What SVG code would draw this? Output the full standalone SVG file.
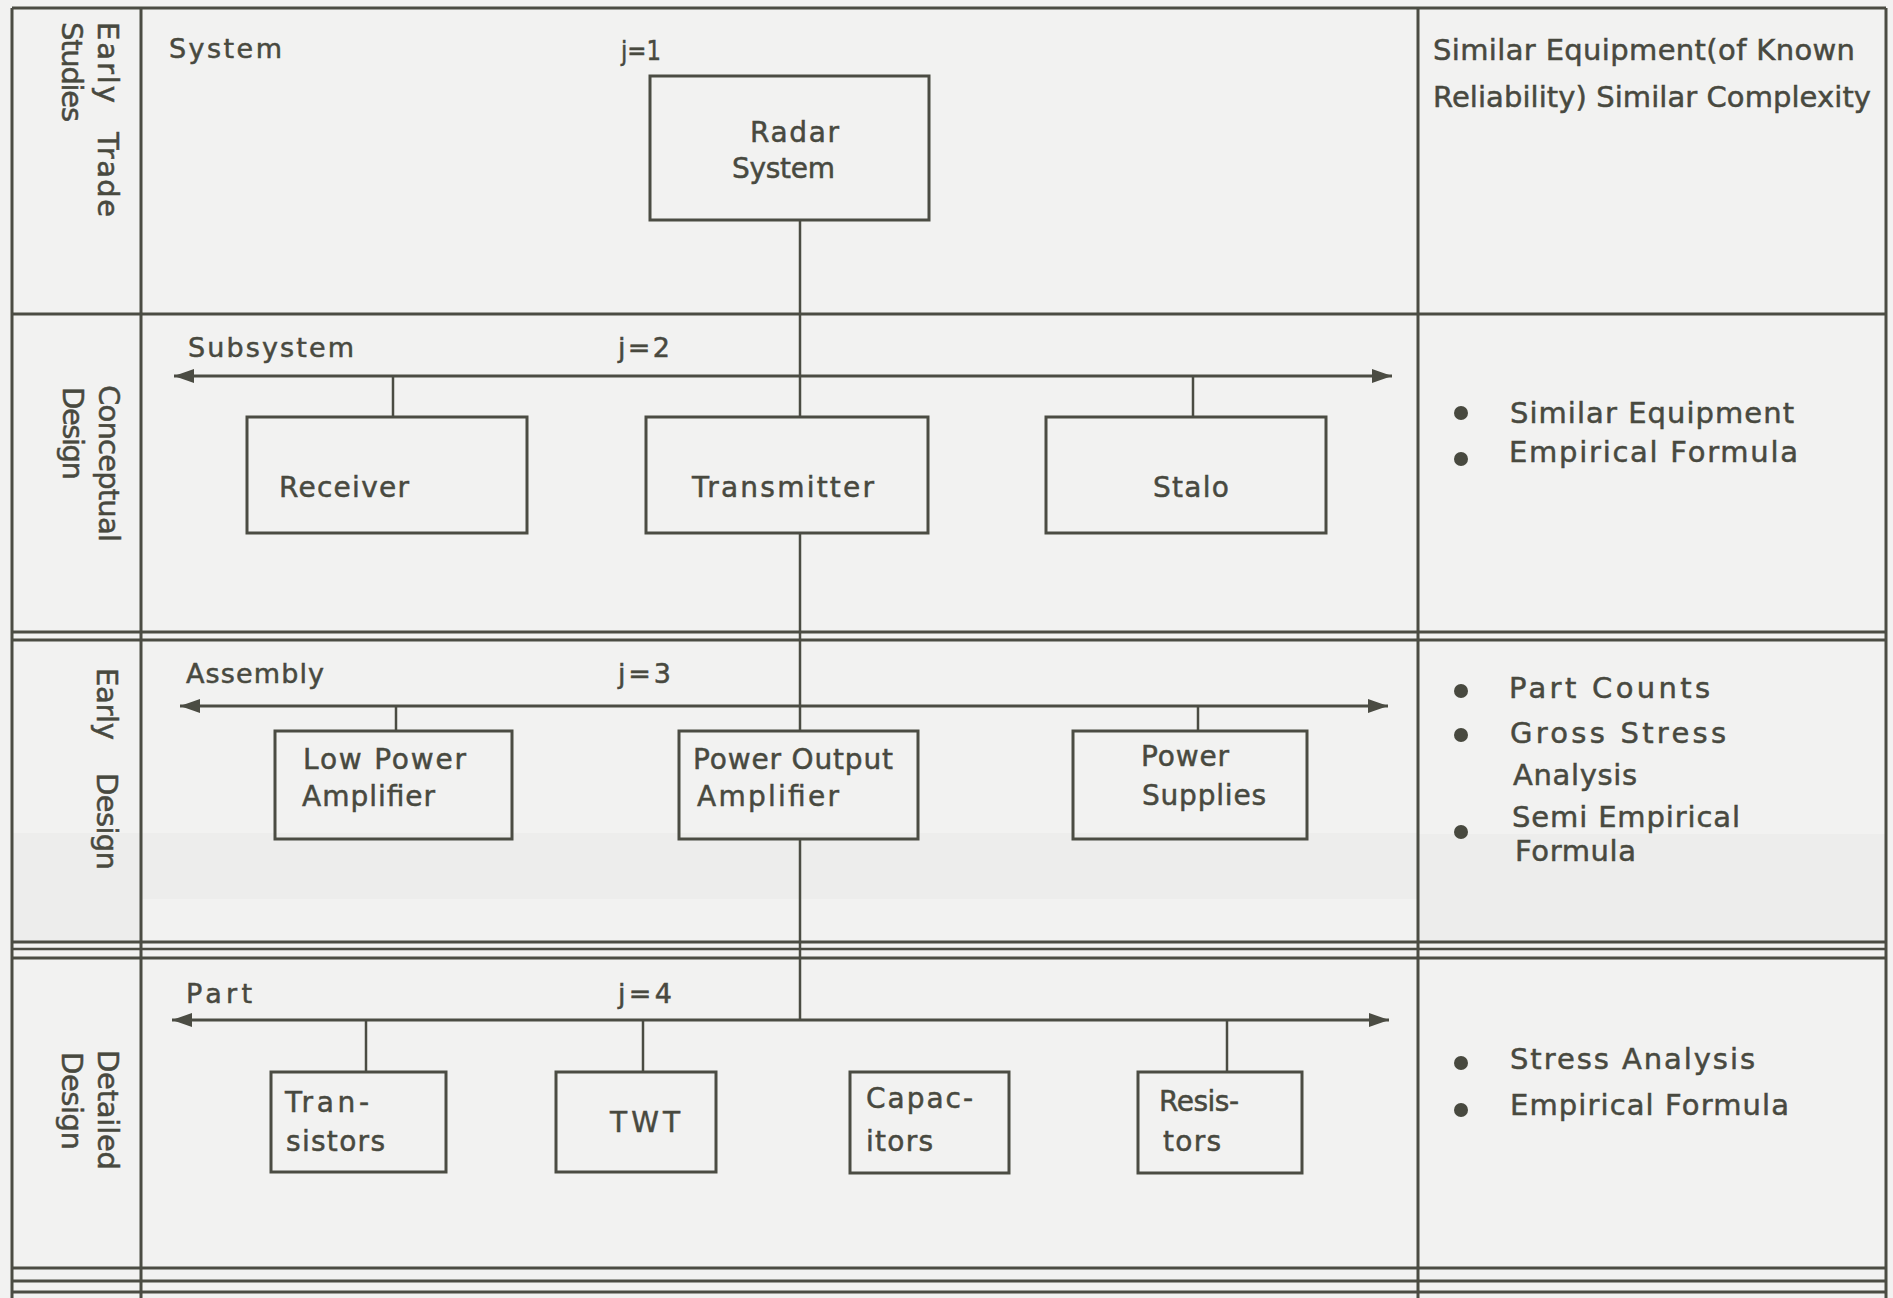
<svg xmlns="http://www.w3.org/2000/svg" width="1893" height="1298" viewBox="0 0 1893 1298">
  <defs>
    <style>
      .grid { stroke: #4b4c43; stroke-width: 3; fill: none; }
      .thin { stroke: #4b4c43; stroke-width: 2.5; fill: none; }
      .box { stroke: #4b4c43; stroke-width: 3; fill: none; }
      .wire { stroke: #4b4c43; stroke-width: 2.5; fill: none; }
      .bus { stroke: #4b4c43; stroke-width: 3; fill: none; marker-start: url(#head); marker-end: url(#head); }
      text { font-family: "DejaVu Sans", "Liberation Sans", sans-serif; fill: #48493f; stroke: #48493f; stroke-width: 0.5; }
      .row { font-size: 27px; }
      .node { font-size: 28px; }
      .note { font-size: 29px; }
      .side { font-size: 29px; }
      .dot { fill: #48493f; }
    </style>
    <marker id="head" markerUnits="userSpaceOnUse" markerWidth="22" markerHeight="16" refX="20" refY="7" orient="auto-start-reverse">
      <path d="M0,0 L20,7 L0,14 z" fill="#4b4c43"/>
    </marker>
  </defs>

  <!-- paper -->
  <rect x="0" y="0" width="1893" height="1298" fill="#f2f2f1"/>
  <rect x="12" y="833" width="129" height="108" fill="#ededec"/>
  <rect x="141" y="833" width="1277" height="66" fill="#ededec"/>
  <rect x="1418" y="834" width="468" height="107" fill="#ededec"/>

  <!-- table frame -->
  <g id="frame">
    <line class="grid" x1="12" y1="8" x2="12" y2="1298"/>
    <line class="grid" x1="1886" y1="8" x2="1886" y2="1298"/>
    <line class="grid" x1="141" y1="8" x2="141" y2="1298"/>
    <line class="grid" x1="1418" y1="8" x2="1418" y2="1298"/>
    <line class="grid" x1="12" y1="8" x2="1886" y2="8"/>
    <line class="grid" x1="12" y1="314" x2="1886" y2="314"/>
    <line class="grid" x1="12" y1="632" x2="1886" y2="632"/>
    <line class="grid" x1="12" y1="640" x2="1886" y2="640"/>
    <line class="grid" x1="12" y1="942" x2="1886" y2="942"/>
    <line class="thin" x1="12" y1="949" x2="1886" y2="949"/>
    <line class="grid" x1="12" y1="958" x2="1886" y2="958"/>
    <line class="grid" x1="12" y1="1268" x2="1886" y2="1268"/>
    <line class="grid" x1="12" y1="1281" x2="1886" y2="1281"/>
    <line class="grid" x1="12" y1="1292" x2="1886" y2="1292"/>
  </g>

  <!-- design phase labels, read top to bottom -->
  <g id="phase-labels">
    <text class="side" transform="translate(98,22) rotate(90)" textLength="81">Early</text>
    <text class="side" transform="translate(98,132) rotate(90)" textLength="85">Trade</text>
    <text class="side" transform="translate(62,22) rotate(90)" textLength="100">Studies</text>
    <text class="side" transform="translate(99,385) rotate(90)" textLength="157">Conceptual</text>
    <text class="side" transform="translate(63,387) rotate(90)" textLength="93">Design</text>
    <text class="side" transform="translate(97,668) rotate(90)" textLength="72">Early</text>
    <text class="side" transform="translate(97,773) rotate(90)" textLength="97">Design</text>
    <text class="side" transform="translate(98,1050) rotate(90)" textLength="120">Detailed</text>
    <text class="side" transform="translate(62,1052) rotate(90)" textLength="98">Design</text>
  </g>

  <!-- hierarchy level labels -->
  <g id="level-labels">
    <text class="row" x="169" y="58" textLength="113">System</text>
    <text class="row" x="621" y="60" textLength="40" lengthAdjust="spacingAndGlyphs">j=1</text>
    <text class="row" x="188" y="357" textLength="166">Subsystem</text>
    <text class="row" x="618" y="357" textLength="52">j=2</text>
    <text class="row" x="186" y="683" textLength="138">Assembly</text>
    <text class="row" x="618" y="683" textLength="53">j=3</text>
    <text class="row" x="186" y="1003" textLength="66">Part</text>
    <text class="row" x="618" y="1003" textLength="54">j=4</text>
  </g>

  <!-- connectors -->
  <g id="connectors">
    <line class="bus" x1="174" y1="376" x2="1392" y2="376"/>
    <line class="bus" x1="180" y1="706" x2="1388" y2="706"/>
    <line class="bus" x1="172" y1="1020" x2="1389" y2="1020"/>
    <line class="wire" x1="800" y1="220" x2="800" y2="417"/>
    <line class="wire" x1="800" y1="533" x2="800" y2="731"/>
    <line class="wire" x1="800" y1="839" x2="800" y2="1020"/>
    <line class="wire" x1="393" y1="376" x2="393" y2="417"/>
    <line class="wire" x1="1193" y1="376" x2="1193" y2="417"/>
    <line class="wire" x1="396" y1="706" x2="396" y2="731"/>
    <line class="wire" x1="1198" y1="706" x2="1198" y2="731"/>
    <line class="wire" x1="366" y1="1020" x2="366" y2="1072"/>
    <line class="wire" x1="643" y1="1020" x2="643" y2="1072"/>
    <line class="wire" x1="1227" y1="1020" x2="1227" y2="1072"/>
  </g>

  <!-- blocks -->
  <g id="radar-system">
    <rect class="box" x="650" y="76" width="279" height="144"/>
    <text class="node" x="750" y="142" textLength="89">Radar</text>
    <text class="node" x="732" y="178" textLength="103">System</text>
  </g>
  <g id="receiver">
    <rect class="box" x="247" y="417" width="280" height="116"/>
    <text class="node" x="279" y="497" textLength="130">Receiver</text>
  </g>
  <g id="transmitter">
    <rect class="box" x="646" y="417" width="282" height="116"/>
    <text class="node" x="692" y="497" textLength="182">Transmitter</text>
  </g>
  <g id="stalo">
    <rect class="box" x="1046" y="417" width="280" height="116"/>
    <text class="node" x="1153" y="497" textLength="76">Stalo</text>
  </g>
  <g id="low-power-amplifier">
    <rect class="box" x="275" y="731" width="237" height="108"/>
    <text class="node" x="303" y="769" textLength="163">Low Power</text>
    <text class="node" x="302" y="806" textLength="133">Amplifier</text>
  </g>
  <g id="power-output-amplifier">
    <rect class="box" x="679" y="731" width="239" height="108"/>
    <text class="node" x="693" y="769" textLength="200">Power Output</text>
    <text class="node" x="697" y="806" textLength="142">Amplifier</text>
  </g>
  <g id="power-supplies">
    <rect class="box" x="1073" y="731" width="234" height="108"/>
    <text class="node" x="1141" y="766" textLength="88">Power</text>
    <text class="node" x="1142" y="805" textLength="124">Supplies</text>
  </g>
  <g id="transistors">
    <rect class="box" x="271" y="1072" width="175" height="100"/>
    <text class="node" x="285" y="1112" textLength="84">Tran-</text>
    <text class="node" x="286" y="1151" textLength="99">sistors</text>
  </g>
  <g id="twt">
    <rect class="box" x="556" y="1072" width="160" height="100"/>
    <text class="node" x="610" y="1132" textLength="70">TWT</text>
  </g>
  <g id="capacitors">
    <rect class="box" x="850" y="1072" width="159" height="101"/>
    <text class="node" x="866" y="1108" textLength="107">Capac-</text>
    <text class="node" x="866" y="1151" textLength="67">itors</text>
  </g>
  <g id="resistors">
    <rect class="box" x="1138" y="1072" width="164" height="101"/>
    <text class="node" x="1159" y="1111" textLength="80">Resis-</text>
    <text class="node" x="1163" y="1151" textLength="58">tors</text>
  </g>

  <!-- prediction methods per phase -->
  <g id="methods-system">
    <text class="note" x="1433" y="60" textLength="422">Similar Equipment(of Known</text>
    <text class="note" x="1433" y="107" textLength="438">Reliability) Similar Complexity</text>
  </g>
  <g id="methods-subsystem">
    <circle class="dot" cx="1461" cy="413" r="7"/>
    <circle class="dot" cx="1461" cy="459" r="7"/>
    <text class="note" x="1510" y="423" textLength="284">Similar Equipment</text>
    <text class="note" x="1509" y="462" textLength="289">Empirical Formula</text>
  </g>
  <g id="methods-assembly">
    <circle class="dot" cx="1461" cy="691" r="7"/>
    <circle class="dot" cx="1461" cy="735" r="7"/>
    <circle class="dot" cx="1461" cy="832" r="7"/>
    <text class="note" x="1509" y="698" textLength="201">Part Counts</text>
    <text class="note" x="1510" y="743" textLength="216">Gross Stress</text>
    <text class="note" x="1513" y="785" textLength="124">Analysis</text>
    <text class="note" x="1512" y="827" textLength="228">Semi Empirical</text>
    <text class="note" x="1515" y="861" textLength="121">Formula</text>
  </g>
  <g id="methods-part">
    <circle class="dot" cx="1461" cy="1063" r="7"/>
    <circle class="dot" cx="1461" cy="1110" r="7"/>
    <text class="note" x="1510" y="1069" textLength="245">Stress Analysis</text>
    <text class="note" x="1510" y="1115" textLength="279">Empirical Formula</text>
  </g>
</svg>
